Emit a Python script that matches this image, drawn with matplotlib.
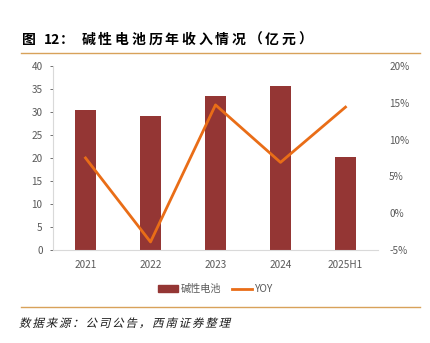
import matplotlib.pyplot as plt
import numpy as np
from matplotlib.lines import Line2D
from matplotlib.patches import Patch, PathPatch
from matplotlib.textpath import TextPath
from matplotlib.font_manager import FontProperties
from matplotlib.transforms import Affine2D

plt.rcParams['font.family'] = ['Noto Sans CJK SC', 'DejaVu Sans']

years = ["2021", "2022", "2023", "2024", "2025H1"]
revenue = [30.4, 29.1, 33.4, 35.7, 20.1]
yoy = [7.5, -3.9, 14.7, 6.9, 14.4]

title_head = ["图", "12", "："]
title_body = "碱性电池历年收入情况（亿元）"
source = "数据来源：公司公告，西南证券整理"

bar_color = "#943634"
line_color = "#E96D17"
grey = "#595959"
gold = "#D8A25A"

W, H = 431, 343
fig = plt.figure(figsize=(W / 100, H / 100), dpi=100)
ax = fig.add_axes([0.123, 0.271, 0.754, 0.537])
x = np.arange(len(years))

ax.bar(x, revenue, width=0.31, color=bar_color, zorder=2)
ax.set_ylim(0, 40)
ax.set_yticks(range(0, 41, 5))
ax.set_xlim(-0.5, 4.5)
ax.set_xticks(x)
ax.set_xticklabels(years)
ax.tick_params(axis="y", colors=grey, labelsize=7.2, length=2.5, width=0.6, pad=5)
ax.tick_params(axis="x", colors=grey, labelsize=7.2, length=0, pad=7)
for s in ["top", "right"]:
    ax.spines[s].set_visible(False)
ax.spines["left"].set_color("#D9D9D9")
ax.spines["bottom"].set_color("#D9D9D9")

ax2 = ax.twinx()
ax2.plot(x, yoy, color=line_color, linewidth=2.0, zorder=3)
ax2.set_ylim(-5, 20)
ax2.set_yticks(range(-5, 21, 5))
ax2.set_yticklabels([f"{v}%" for v in range(-5, 21, 5)])
ax2.tick_params(axis="y", colors=grey, labelsize=7.2, length=0, pad=8)
for s in ["top", "right", "left", "bottom"]:
    ax2.spines[s].set_visible(False)

handles = [Patch(color=bar_color), Line2D([0], [0], color=line_color, linewidth=2)]
fig.legend(handles, ["碱性电池", "YOY"], loc="center", bbox_to_anchor=(0.5, 0.157),
           ncol=2, frameon=False, fontsize=7.3, labelcolor=grey,
           handlelength=2.0, handleheight=0.75, handletextpad=0.3, columnspacing=1.0)

# title, spaced out glyph by glyph
ty = 1 - 40 / H
for s, cx in zip(title_head, [29, 52, 67]):
    fig.text(cx / W, ty, s, fontsize=10, fontweight="bold", ha="center", va="center")
for i, ch in enumerate(title_body):
    fig.text((88.3 + 16.7 * i) / W, ty, ch, fontsize=10, fontweight="bold",
             ha="center", va="center")

fig.add_artist(Line2D([0.049, 0.975], [0.845, 0.845], color=gold, linewidth=1.0))
fig.add_artist(Line2D([0.049, 0.975], [0.105, 0.105], color=gold, linewidth=1.0))

# source note, slanted by hand since the CJK font has no italic
fp = FontProperties(family="Noto Sans CJK SC", weight="light")
for i, ch in enumerate(source):
    tp = TextPath((0, 0), ch, size=11.5, prop=fp)
    tr = Affine2D().skew_deg(14, 0).translate(19 + 13.3 * i, H - 327)
    fig.add_artist(PathPatch(tr.transform_path(tp), transform=None,
                             facecolor="#1a1a1a", edgecolor="none"))

fig.savefig("out.png", dpi=100)
